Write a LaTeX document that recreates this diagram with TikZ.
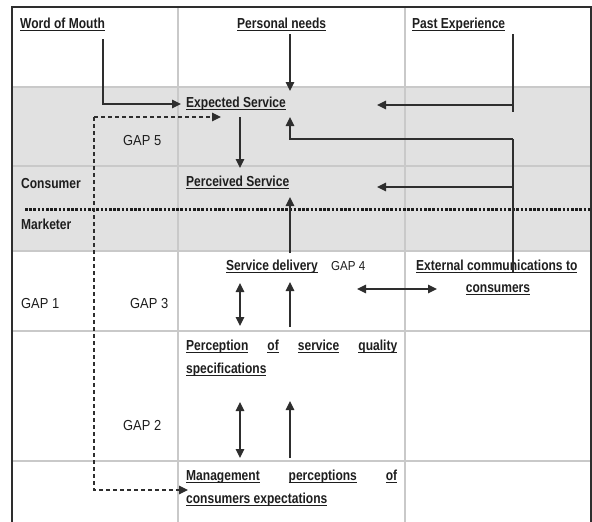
\documentclass[tikz,border=0pt]{standalone}
\usepackage{fontspec}
\setmainfont[FakeStretch=0.89]{Liberation Sans}
\newfontfamily\labfont[FakeStretch=0.83]{Liberation Sans}
\usetikzlibrary{arrows.meta}
\definecolor{txt}{HTML}{1E1E1E}
\definecolor{ln}{HTML}{2E2E2E}
\definecolor{grid}{HTML}{C9C9C9}
\definecolor{band}{HTML}{E1E1E1}
\newcommand\uline[1]{\leavevmode\setbox0\hbox{#1}\rlap{\rule[-3pt]{\wd0}{1.3pt}}\box0}
\tikzset{
  lbl/.style={inner sep=0pt, anchor=base west, text=txt, font=\labfont\bfseries\fontsize{14.5}{17}\selectfont},
  gaplbl/.style={inner sep=0pt, anchor=base west, text=txt, font=\fontsize{14.5}{17}\selectfont},
  arr/.style={draw=ln, line width=1.3pt, -{Triangle[length=9pt,width=8.5pt]}},
  darr/.style={draw=ln, line width=1.3pt, {Triangle[length=9pt,width=8.5pt]}-{Triangle[length=9pt,width=8.5pt]}},
  plain/.style={draw=ln, line width=1.3pt},
  dsh/.style={draw=ln, line width=1.2pt, dash pattern=on 4pt off 3pt},
  gridline/.style={draw=grid, line width=1.5pt},
}
\begin{document}
\begin{tikzpicture}[x=1pt,y=-1pt]
\useasboundingbox (0,0) rectangle (592,522);
\fill[white] (0,0) rectangle (592,522);
% shaded band
\fill[band] (12,87) rectangle (591,251);
% grid
\foreach \yy in {87,166,251,331,461} \draw[gridline] (12,\yy) -- (591,\yy);
\foreach \xx in {178,405} \draw[gridline] (\xx,7) -- (\xx,522);
% outer border
\draw[draw=ln, line width=1.5pt] (12,522) -- (12,7) -- (591,7) -- (591,522);
% consumer / marketer dotted line
\draw[draw=txt, line width=3pt, dash pattern=on 2.6pt off 1.6pt] (25,209) -- (591,209);

% labels
\node[lbl] (wom) at (20,28) {\uline{Word of Mouth}};
\node[lbl] (pn) at (237,28) {\uline{Personal needs}};
\node[lbl] (pe) at (412,28) {\uline{Past Experience}};
\node[lbl] (es) at (186,107) {\uline{Expected Service}};
\node[gaplbl] (g5) at (123,145) {GAP 5};
\node[lbl] (cons) at (21,188) {Consumer};
\node[lbl] (ps) at (186,186) {\uline{Perceived Service}};
\node[lbl] (mkt) at (21,229) {Marketer};
\node[lbl] (sd) at (226,270) {\uline{Service delivery}};
\node[gaplbl, font=\fontsize{13}{15}\selectfont] (g4) at (331,270) {GAP 4};
\node[lbl] (ec1) at (416,270) {\uline{External communications to}};
\node[lbl, anchor=base] (ec2) at (498,292) {\uline{consumers}};
\node[gaplbl] (g1) at (21,308) {GAP 1};
\node[gaplbl] (g3) at (130,308) {GAP 3};
\node[lbl] (pq1) at (186,350) {\makebox[211pt][l]{\uline{Perception}\hfill\uline{of}\hfill\uline{service}\hfill\uline{quality}}};
\node[lbl] (pq2) at (186,373) {\uline{specifications}};
\node[gaplbl] (g2) at (123,430) {GAP 2};
\node[lbl] (mp1) at (186,480) {\makebox[211pt][l]{\uline{Management}\hfill\uline{perceptions}\hfill\uline{of}}};
\node[lbl] (mp2) at (186,503) {\uline{consumers expectations}};

% connector points
\coordinate (wmA) at (103,39);
\coordinate (wmB) at (103,104);
\coordinate (wmC) at (181,104);
\coordinate (pnA) at (290,34);
\coordinate (pnB) at (290,91);
\coordinate (peA) at (513,34);
\coordinate (peB) at (513,112);
\coordinate (peC) at (513,105);
\coordinate (peD) at (377,105);
\coordinate (ecA) at (513,272);
\coordinate (ecB) at (513,139);
\coordinate (ecC) at (290,139);
\coordinate (ecD) at (290,117);
\coordinate (ecE) at (513,187);
\coordinate (ecF) at (377,187);
\coordinate (esA) at (240,117);
\coordinate (esB) at (240,168);
\coordinate (sdA) at (290,253);
\coordinate (sdB) at (290,197);
\coordinate (d1A) at (240,283);
\coordinate (d1B) at (240,326);
\coordinate (u1A) at (290,327);
\coordinate (u1B) at (290,282);
\coordinate (hA) at (357,289);
\coordinate (hB) at (437,289);
\coordinate (d2A) at (240,402);
\coordinate (d2B) at (240,458);
\coordinate (u2A) at (290,458);
\coordinate (u2B) at (290,401);
\coordinate (dsA) at (94,117);
\coordinate (dsB) at (221,117);
\coordinate (dsC) at (94,490);
\coordinate (dsD) at (188,490);

% connectors
\draw[arr] (wmA) -- (wmB) -- (wmC);
\draw[arr] (pnA) -- (pnB);
\draw[plain] (peA) -- (peB);
\draw[arr] (peC) -- (peD);
\draw[plain] (ecA) -- (ecB);
\draw[arr] (ecB) -- (ecC) -- (ecD);
\draw[arr] (ecE) -- (ecF);
\draw[arr] (esA) -- (esB);
\draw[arr] (sdA) -- (sdB);
\draw[darr] (d1A) -- (d1B);
\draw[arr] (u1A) -- (u1B);
\draw[darr] (hA) -- (hB);
\draw[darr] (d2A) -- (d2B);
\draw[arr] (u2A) -- (u2B);
\draw[dsh, -{Triangle[length=9pt,width=8.5pt]}] (dsA) -- (dsB);
\draw[dsh, -{Triangle[length=9pt,width=8.5pt]}] (dsA) -- (dsC) -- (dsD);
\end{tikzpicture}
\end{document}
